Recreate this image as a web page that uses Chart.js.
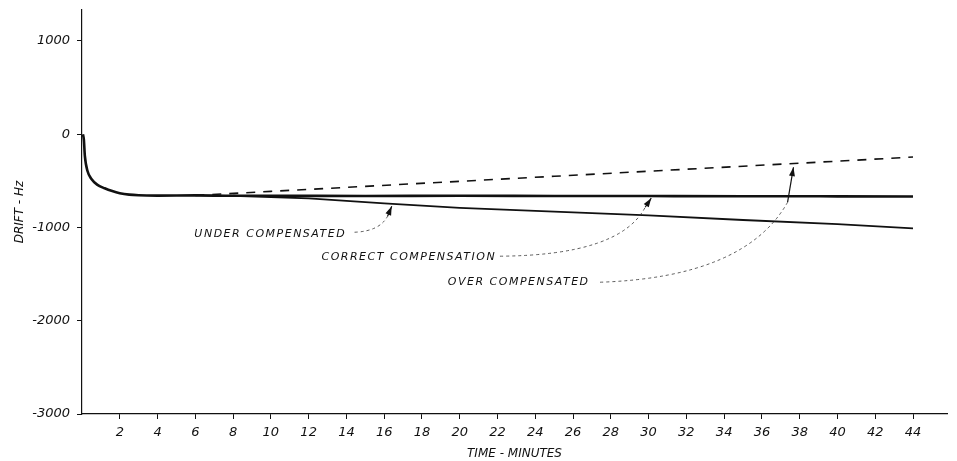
<!DOCTYPE html>
<html>
<head>
<meta charset="utf-8">
<script src="https://cdn.jsdelivr.net/npm/chart.js@4"></script>
<style>
  html, body { margin: 0; padding: 0; background: #fff; }
  canvas { display: block; }
</style>
</head>
<body>
<canvas id="drift" width="957" height="461"></canvas>
<script>
// Values (time in minutes, drift in Hz)
const correctTimes = [0.05, 0.1, 0.15, 0.3, 0.5, 0.8, 1.2, 1.6, 2, 2.5, 3, 4, 6, 8, 10, 15, 20, 25, 30, 35, 40, 44];
const correctDrift = [0, -60, -230, -400, -480, -540, -580, -610, -632, -648, -655, -658, -656, -660, -660, -662, -660, -662, -663, -665, -666, -667];

const overTimes = [6, 10, 15, 20, 25, 30, 35, 40, 44];
const overDrift = [-656, -613, -559, -505, -451, -397, -343, -289, -245];

const underTimes = [8, 12, 16, 20, 25, 30, 35, 40, 44];
const underDrift = [-660, -688, -742, -790, -830, -871, -920, -965, -1010];

const xTicksMax = 44;
const yTickValues = [-3000, -2000, -1000, 0, 1000];

// Callout labels, anchored in data units
const notes = [
  { text: 'UNDER COMPENSATED', at: [5.95, -1072], from: [14.43, -1051], bend: [15.76, -1040], to: [16.18, -879], tip: [16.4, -772] },
  { text: 'CORRECT COMPENSATION', at: [12.68, -1319], from: [22.13, -1308], bend: [28.49, -1298], to: [29.82, -783], tip: [30.14, -686] },
  { text: 'OVER COMPENSATED', at: [19.37, -1587], from: [27.43, -1587], bend: [35.12, -1534], to: [37.36, -729], tip: [37.67, -354] }
];

function toPoints(times, values) {
  return times.map((t, i) => ({ x: t, y: values[i] }));
}

const ink = '#111';
const tickFont = { family: 'DejaVu Sans', size: 13, style: 'italic' };
const titleFont = { family: 'DejaVu Sans', size: 12, style: 'italic' };

const leaderPlugin = {
  id: 'leaders',
  afterDatasetsDraw(chart) {
    const { ctx, scales: { x, y } } = chart;
    const px = p => [x.getPixelForValue(p[0]), y.getPixelForValue(p[1])];
    ctx.save();
    ctx.font = 'italic 11px "DejaVu Sans"';
    ctx.letterSpacing = '1.5px';
    ctx.fillStyle = ink;
    ctx.textBaseline = 'middle';
    notes.forEach(n => {
      const [tx, ty] = px(n.at);
      ctx.fillText(n.text, tx, ty);

      const a = px(n.from), c = px(n.bend), b = px(n.to), tip = px(n.tip);
      // dotted leader
      ctx.setLineDash([3, 3]);
      ctx.lineWidth = 0.8;
      ctx.strokeStyle = '#333';
      ctx.beginPath();
      ctx.moveTo(a[0], a[1]);
      ctx.quadraticCurveTo(c[0], c[1], b[0], b[1]);
      ctx.stroke();

      // solid shaft + arrow head
      ctx.setLineDash([]);
      ctx.lineWidth = 1.2;
      ctx.strokeStyle = ink;
      ctx.beginPath();
      ctx.moveTo(b[0], b[1]);
      ctx.lineTo(tip[0], tip[1]);
      ctx.stroke();

      const ang = Math.atan2(tip[1] - b[1], tip[0] - b[0]);
      const len = 9, half = 3;
      ctx.beginPath();
      ctx.moveTo(tip[0], tip[1]);
      ctx.lineTo(tip[0] - len * Math.cos(ang) + half * Math.sin(ang), tip[1] - len * Math.sin(ang) - half * Math.cos(ang));
      ctx.lineTo(tip[0] - len * Math.cos(ang) - half * Math.sin(ang), tip[1] - len * Math.sin(ang) + half * Math.cos(ang));
      ctx.closePath();
      ctx.fill();
    });
    ctx.restore();
  }
};

new Chart(document.getElementById('drift'), {
  type: 'line',
  data: {
    datasets: [
      {
        label: 'Correct compensation',
        data: toPoints(correctTimes, correctDrift),
        borderColor: ink,
        borderWidth: 2.6,
        cubicInterpolationMode: 'monotone'
      },
      {
        label: 'Over compensated',
        data: toPoints(overTimes, overDrift),
        borderColor: ink,
        borderWidth: 1.6,
        borderDash: [9, 8]
      },
      {
        label: 'Under compensated',
        data: toPoints(underTimes, underDrift),
        borderColor: ink,
        borderWidth: 1.8
      }
    ]
  },
  options: {
    responsive: false,
    animation: false,
    devicePixelRatio: 1,
    layout: { padding: { top: 10, right: 10, left: 0, bottom: 0 } },
    elements: { point: { radius: 0 } },
    plugins: { legend: { display: false }, tooltip: { enabled: false } },
    scales: {
      x: {
        type: 'linear',
        min: 0,
        max: 45.8,
        border: { color: ink, width: 1.2 },
        grid: { drawOnChartArea: false, tickLength: 5, color: ink },
        ticks: {
          stepSize: 2,
          includeBounds: false,
          maxRotation: 0,
          autoSkip: false,
          padding: 6,
          color: ink,
          font: tickFont,
          callback: v => (v === 0 || v > xTicksMax) ? null : String(v)
        },
        title: {
          display: true,
          text: 'TIME - MINUTES',
          color: ink,
          font: titleFont,
          padding: { top: 0, bottom: 0 }
        },
        afterFit: s => { s.height = 47; s.paddingLeft = 0; s.paddingRight = 0; }
      },
      y: {
        min: -3000,
        max: 1332,
        border: { color: ink, width: 1.2 },
        grid: { drawOnChartArea: false, tickLength: 5, color: ink },
        afterBuildTicks: s => { s.ticks = yTickValues.map(v => ({ value: v })); },
        ticks: {
          color: ink,
          font: tickFont,
          padding: 7,
          callback: v => String(v)
        },
        title: {
          display: true,
          text: 'DRIFT - Hz',
          color: ink,
          font: titleFont,
          padding: { top: 13, bottom: 0 }
        },
        afterFit: s => { s.width = 82; s.paddingTop = 0; s.paddingBottom = 0; }
      }
    }
  },
  plugins: [leaderPlugin]
});
</script>
</body>
</html>
